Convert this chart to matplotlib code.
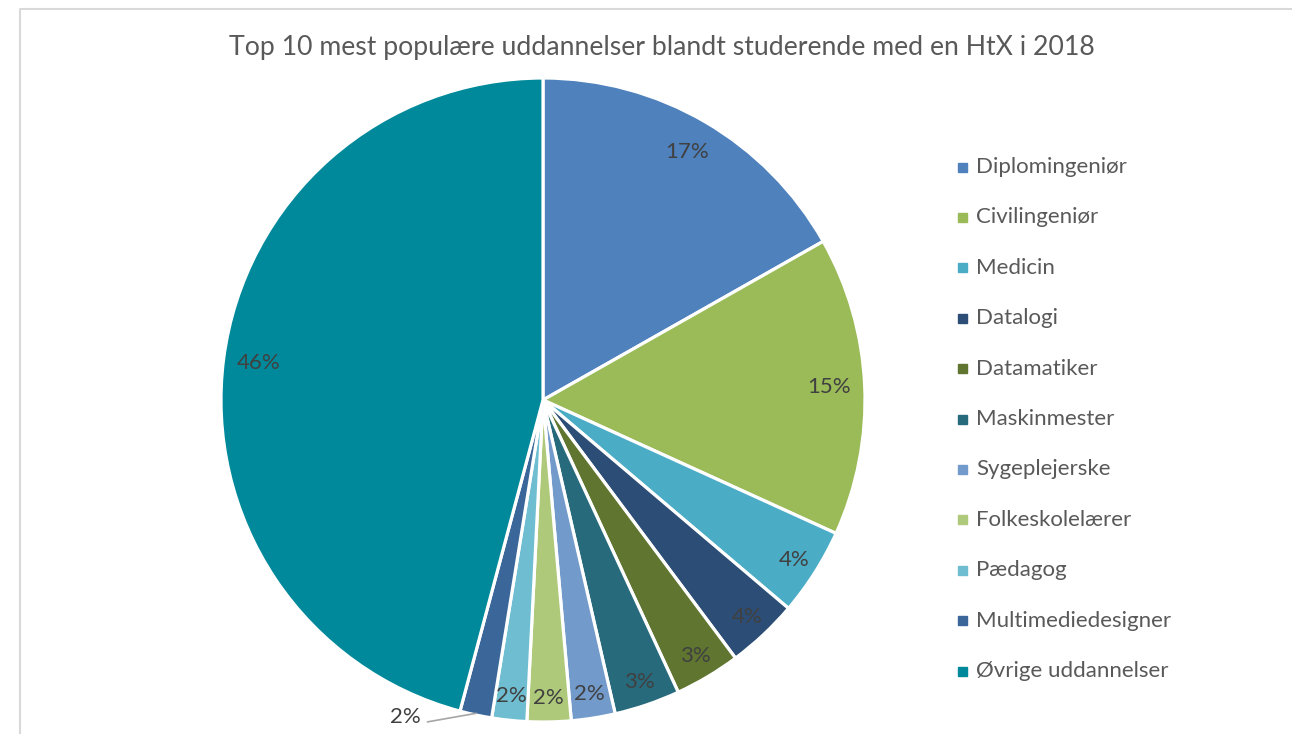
import numpy as np
import matplotlib.pyplot as plt
from matplotlib.patches import Rectangle
from matplotlib.lines import Line2D

plt.rcParams['font.family'] = ['Lato', 'DejaVu Sans']

title = "Top 10 mest populære uddannelser blandt studerende med en HtX i 2018"
labels = ["Diplomingeniør", "Civilingeniør", "Medicin", "Datalogi", "Datamatiker",
          "Maskinmester", "Sygeplejerske", "Folkeskolelærer", "Pædagog",
          "Multimediedesigner", "Øvrige uddannelser"]
shares = [16.8, 15.0, 4.4, 3.6, 3.3, 3.3, 2.2, 2.2, 1.75, 1.6, 45.85]
colors = ["#4F81BD", "#9BBB59", "#4BACC6", "#2C4D75", "#5F7530", "#276A7C",
          "#729ACA", "#AFC97A", "#6FBDD1", "#3A6699", "#00899A"]

fig = plt.figure(figsize=(12.92, 7.34), dpi=100)

# chart frame (only top/left edges fall inside the picture)
fig.add_artist(Line2D([20 / 1292, 20 / 1292, 1.0], [0.0, 1 - 9 / 734, 1 - 9 / 734],
                      transform=fig.transFigure, color="#D9D9D9", lw=1.5))

fig.text(662 / 1292, 1 - 47 / 734, title, ha="center", va="center",
         fontsize=19.2, color="#595959")

ax = fig.add_axes([221 / 1292, 12 / 734, 644 / 1292, 644 / 734])
wedges, _ = ax.pie(shares, colors=colors, startangle=90, counterclock=False,
                   wedgeprops=dict(edgecolor="white", linewidth=2.3))
ax.set_xlim(-1, 1)
ax.set_ylim(-1, 1)
ax.set_aspect("equal")
ax.axis("off")

total = sum(shares)
for i, (w, v) in enumerate(zip(wedges, shares)):
    ang = np.deg2rad((w.theta1 + w.theta2) / 2)
    txt = f"{v / total * 100:.0f}%"
    if labels[i] == "Multimediedesigner":
        x, y = np.cos(ang), np.sin(ang)
        ax.annotate(txt, xy=(x * 0.995, y * 0.995), xytext=(-40, -3),
                    textcoords="offset points", ha="right", va="center",
                    fontsize=16, color="#404040",
                    arrowprops=dict(arrowstyle="-", color="#A6A6A6", lw=1.2,
                                    relpos=(1.0, 0.05), shrinkA=3, shrinkB=0,
                                    connectionstyle="angle,angleA=0,angleB=10,rad=0"))
        continue
    r = 0.89 if v > 10 else 0.925
    ax.text(r * np.cos(ang), r * np.sin(ang), txt, ha="center", va="center",
            fontsize=16, color="#404040")

# legend
for i, (lab, c) in enumerate(zip(labels, colors)):
    yc = 1 - (167 + i * 50.4) / 734
    fig.add_artist(Rectangle((958 / 1292, yc - 4.5 / 734), 9 / 1292, 9 / 734,
                             transform=fig.transFigure, color=c))
    fig.text(976 / 1292, yc, lab, ha="left", va="center", fontsize=16,
             color="#595959")

fig.savefig("out.png", dpi=100, facecolor="white")
